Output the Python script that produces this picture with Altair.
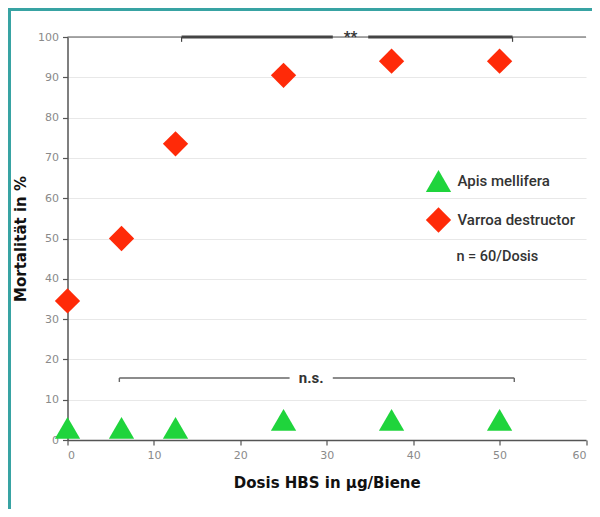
import altair as alt
import pandas as pd

# ---- data ----
dose = [0, 6.25, 12.5, 25, 37.5, 50]
apis = [3, 3, 3, 5, 5, 5]
varroa = [34.5, 50, 73.5, 90.5, 94, 94]
species = ["Apis mellifera", "Varroa destructor"]

# significance brackets
sig_x = [13.2, 34.8]
sig_x2 = [30.7, 51.5]
sig_y = [100, 100]
sig_end_x = [13.2, 51.5]
ns_x = [6.0, 30.7]
ns_x2 = [25.7, 51.7]
ns_y = [15.4, 15.4]
ns_end_x = [6.0, 51.7]
note_text = ["**", "n.s."]
note_x = [32.75, 28.2]
note_y = [100, 15.4]

W, H = 518.5, 403
PL, PT, PR, PB = 59.5, 29, 6, 69
FONT = "Roboto"
TFONT = "DejaVu Sans"
teal = "#38a3a3"

df = pd.DataFrame({
    "dose": dose + dose,
    "mort": apis + varroa,
    "species": [species[0]] * len(dose) + [species[1]] * len(dose),
})

xs = alt.Scale(domain=[0, 60], nice=False)
ys = alt.Scale(domain=[0, 100], nice=False)

points = alt.Chart(df).mark_point(filled=True, opacity=1, size=640).encode(
    x=alt.X("dose:Q", scale=xs,
            axis=alt.Axis(values=list(range(0, 61, 10)), title="Dosis HBS in µg/Biene",
                          grid=False, titleX=W / 2, titleY=42, titleBaseline="middle",
                          titleAlign="center")),
    y=alt.Y("mort:Q", scale=ys,
            axis=alt.Axis(values=list(range(0, 101, 10)), title="Mortalität in %",
                          grid=True, titleX=-47, titleY=H / 2, titleAngle=270,
                          titleBaseline="middle", titleAlign="center")),
    color=alt.Color("species:N", scale=alt.Scale(domain=species, range=["#1fd43c", "#ff2a08"]),
                    legend=alt.Legend(title=None, orient="none", legendX=358, legendY=131,
                                      symbolSize=640, rowPadding=15, labelFontSize=15,
                                      labelFont=FONT, labelFontWeight=500, labelColor="#333",
                                      labelOffset=6, padding=0, symbolStrokeWidth=0)),
    shape=alt.Shape("species:N", scale=alt.Scale(domain=species, range=["triangle-up", "diamond"])),
)

top_line = alt.Chart(pd.DataFrame({"a": [0], "b": [60], "y": [100]})).mark_rule(
    color="#555", strokeWidth=1.2).encode(x=alt.X("a:Q", scale=xs), x2="b:Q", y=alt.Y("y:Q", scale=ys))

sig = alt.Chart(pd.DataFrame({"x": sig_x, "x2": sig_x2, "y": sig_y})).mark_rule(
    color="#444", strokeWidth=3.2).encode(x=alt.X("x:Q", scale=xs), x2="x2:Q", y=alt.Y("y:Q", scale=ys))
sig_ends = alt.Chart(pd.DataFrame({"x": sig_end_x, "y": sig_y, "y2": [98.8, 98.8]})).mark_rule(
    color="#444", strokeWidth=1.2).encode(x=alt.X("x:Q", scale=xs), y=alt.Y("y:Q", scale=ys), y2="y2:Q")

ns = alt.Chart(pd.DataFrame({"x": ns_x, "x2": ns_x2, "y": ns_y})).mark_rule(
    color="#666", strokeWidth=1.4).encode(x=alt.X("x:Q", scale=xs), x2="x2:Q", y=alt.Y("y:Q", scale=ys))
ns_ends = alt.Chart(pd.DataFrame({"x": ns_end_x, "y": ns_y, "y2": [14.4, 14.4]})).mark_rule(
    color="#666", strokeWidth=1.4).encode(x=alt.X("x:Q", scale=xs), y=alt.Y("y:Q", scale=ys), y2="y2:Q")

notes = alt.Chart(pd.DataFrame({"t": note_text, "x": note_x, "y": note_y})).mark_text(
    font=FONT, fontSize=15, fontWeight="bold", color="#333", baseline="middle").encode(
    x=alt.X("x:Q", scale=xs), y=alt.Y("y:Q", scale=ys), text="t:N")

nlabel = alt.Chart(pd.DataFrame({"t": ["n = 60/Dosis"], "x": [45.0], "y": [45.4]})).mark_text(
    font=FONT, fontSize=14.5, fontWeight=500, color="#333", align="left", baseline="middle").encode(
    x=alt.X("x:Q", scale=xs), y=alt.Y("y:Q", scale=ys), text="t:N")

frame_left = alt.Chart(pd.DataFrame({"a": [0]})).mark_rule(color=teal, strokeWidth=3).encode(
    x=alt.value(-PL + 1.5), y=alt.value(-PT), y2=alt.value(H + PB))
frame_top = alt.Chart(pd.DataFrame({"a": [0]})).mark_rule(color=teal, strokeWidth=3).encode(
    x=alt.value(-PL), x2=alt.value(W + PR), y=alt.value(-PT + 1.5))

chart = alt.layer(
    top_line, sig, sig_ends, ns, ns_ends, notes, nlabel, points, frame_left, frame_top
).properties(
    width=W, height=H,
    autosize=alt.AutoSizeParams(type="none"),
    padding={"left": PL, "top": PT, "right": PR, "bottom": PB},
).configure_view(stroke=None).configure_axis(
    domainColor="#555", domainWidth=1.5, tickColor="#555", tickWidth=1.2, tickSize=5,
    labelColor="#8a8a8a", labelFontSize=11, labelFont=TFONT, labelPadding=4,
    titleFont=TFONT, titleFontSize=15, titleFontWeight="bold", titleColor="#111",
    gridColor="#e8e8e8", gridWidth=1.2,
)

chart.save("out.html", embed_options={"renderer": "svg", "actions": False})
